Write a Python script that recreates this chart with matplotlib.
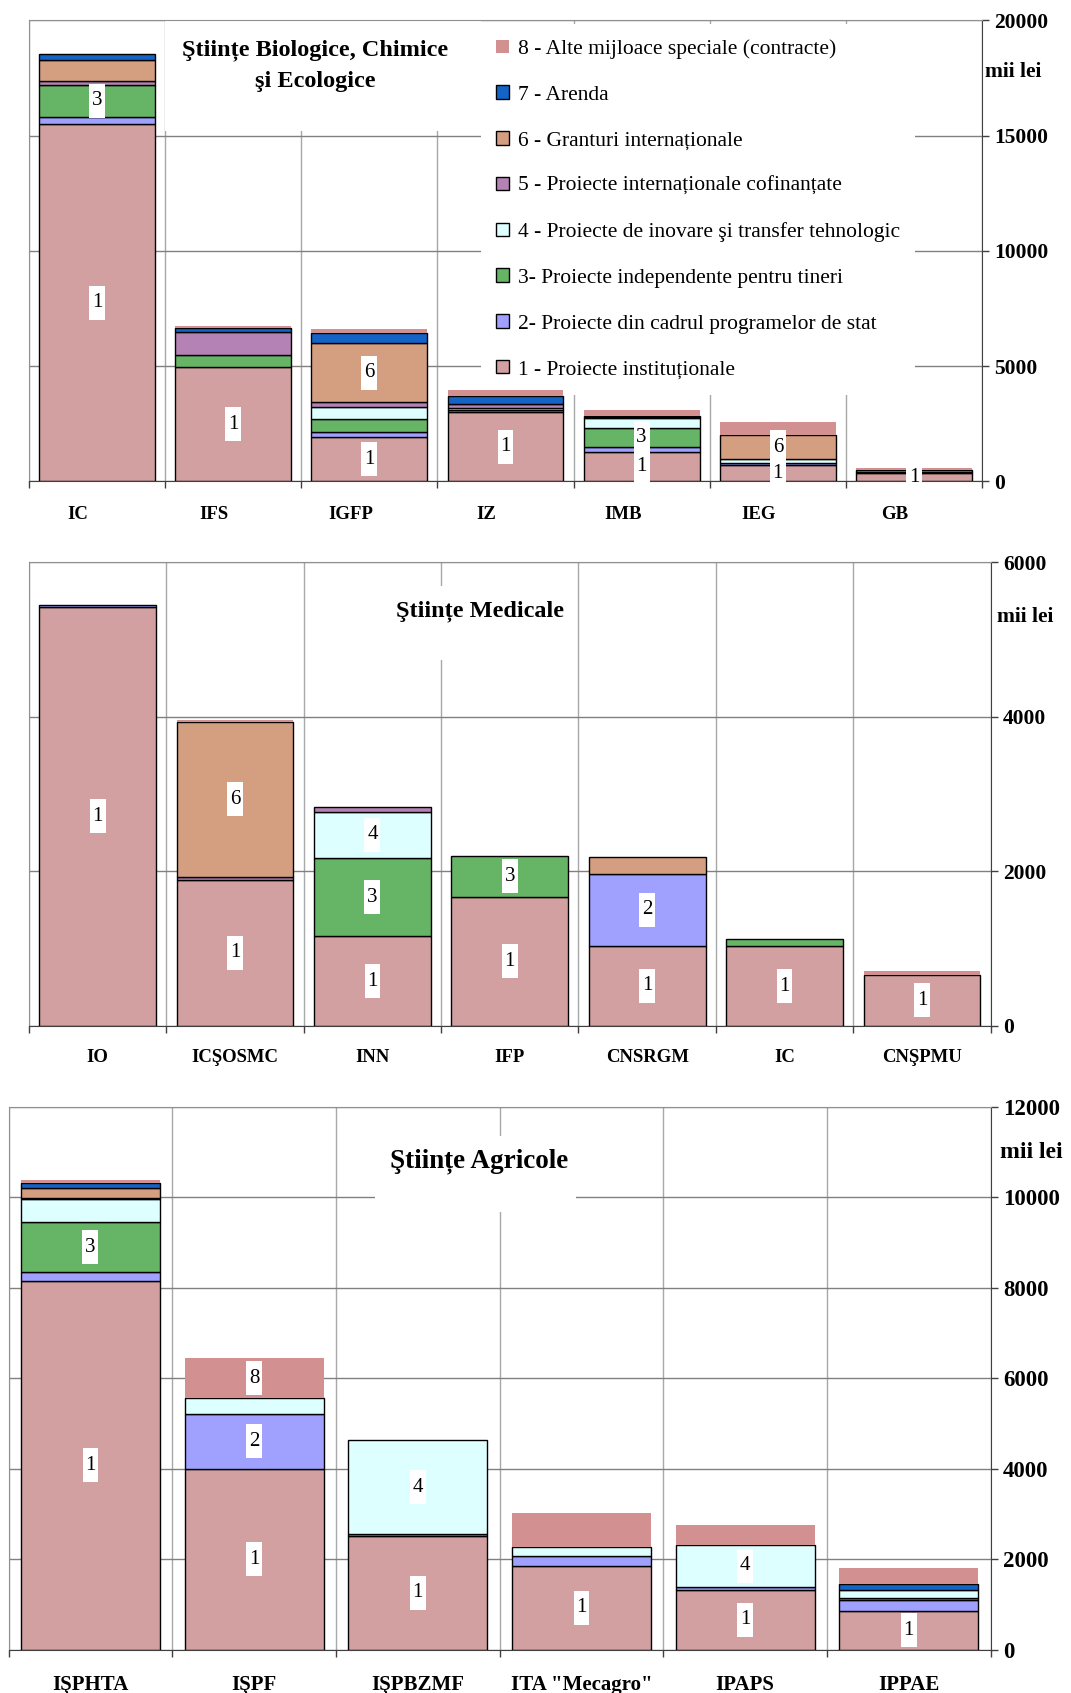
import matplotlib.pyplot as plt
from matplotlib.patches import Patch, Rectangle
from matplotlib.path import Path
from matplotlib.transforms import ScaledTranslation
import numpy as np

plt.rcParams['font.family'] = ['Liberation Serif', 'DejaVu Serif']

# legend texts and colours for the 8 funding sources
series_names = [
    '1 - Proiecte instituționale',
    '2- Proiecte din cadrul programelor de stat',
    '3- Proiecte independente pentru tineri',
    '4 - Proiecte de inovare şi transfer tehnologic',
    '5 - Proiecte internaționale cofinanțate',
    '6 - Granturi internaționale',
    '7 - Arenda',
    '8 - Alte mijloace speciale (contracte)',
]
series_colors = ['#D2A0A0', '#A0A0FF', '#66B466', '#DDFFFF',
                 '#B482B4', '#D49E80', '#1464C8', '#D29090']

# Stiinte Biologice, Chimice si Ecologice (mii lei)
bio_cats = ['IC', 'IFS', 'IGFP', 'IZ', 'IMB', 'IEG', 'GB']
bio_vals = [
    [15510, 4980, 1920, 3010, 1300, 720, 380],
    [320, 0, 220, 0, 190, 90, 50],
    [1375, 490, 560, 110, 820, 0, 50],
    [0, 0, 520, 60, 440, 160, 0],
    [175, 1020, 240, 190, 60, 0, 0],
    [910, 0, 2530, 0, 0, 1030, 0],
    [260, 150, 470, 350, 50, 0, 0],
    [0, 100, 150, 230, 250, 560, 115],
]
bio_marks = [(0, 3), (0, 1), (1, 1), (2, 6), (2, 1), (3, 1),
             (4, 3), (4, 1), (5, 6), (5, 1), (6, 1)]

# Stiinte Medicale
med_cats = ['IO', 'ICŞOSMC', 'INN', 'IFP', 'CNSRGM', 'IC', 'CNŞPMU']
med_vals = [
    [5420, 1890, 1160, 1670, 1040, 1030, 660],
    [20, 0, 0, 0, 930, 0, 0],
    [0, 0, 1010, 530, 0, 90, 0],
    [0, 0, 600, 0, 0, 0, 0],
    [0, 35, 60, 0, 0, 0, 0],
    [0, 2010, 0, 0, 210, 0, 0],
    [0, 0, 0, 0, 0, 0, 0],
    [0, 20, 0, 0, 0, 0, 45],
]
med_marks = [(0, 1), (1, 6), (1, 1), (2, 4), (2, 3), (2, 1),
             (3, 3), (3, 1), (4, 2), (4, 1), (5, 1), (6, 1)]

# Stiinte Agricole
agr_cats = ['IŞPHTA', 'IŞPF', 'IŞPBZMF', 'ITA "Mecagro"', 'IPAPS', 'IPPAE']
agr_vals = [
    [8140, 4000, 2505, 1856, 1326, 847],
    [200, 1210, 40, 220, 66, 250],
    [1110, 0, 0, 0, 0, 50],
    [500, 340, 2090, 185, 930, 177],
    [20, 0, 0, 0, 0, 0],
    [220, 0, 0, 0, 0, 0],
    [110, 0, 0, 0, 0, 118],
    [80, 900, 0, 760, 435, 361],
]
agr_marks = [(0, 3), (0, 1), (1, 8), (1, 2), (1, 1), (2, 4), (2, 1),
             (3, 1), (4, 4), (4, 1), (5, 1)]


def tall_box(x0, y0, width, height, mutation_size):
    # narrow, tall white box behind the segment numbers
    px = 0.13 * mutation_size
    py = 0.36 * mutation_size
    x0, y0 = x0 - px, y0 - py
    x1, y1 = x0 + width + 2 * px, y0 + height + 2 * py
    return Path([(x0, y0), (x1, y0), (x1, y1), (x0, y1), (x0, y0)], closed=True)


def draw_panel(ax, cats, vals, marks, ymax, ystep, xfs, yfs, xpad):
    n = len(cats)
    x = np.arange(n)
    bottom = np.zeros(n)
    for k in range(8):
        v = np.array(vals[k], dtype=float)
        m = v > 0
        if m.any():
            ax.bar(x[m], v[m], 0.85, bottom=bottom[m], color=series_colors[k],
                   edgecolor='none' if k == 7 else 'black', linewidth=1, zorder=2)
        bottom += v

    cum = np.cumsum(np.array(vals, dtype=float), axis=0)
    for i, s in marks:
        lo = cum[s - 2][i] if s > 1 else 0
        yc = lo + vals[s - 1][i] / 2
        ax.text(i, yc, str(s), ha='center', va='center', fontsize=15, zorder=4,
                bbox=dict(boxstyle=tall_box, fc='white', ec='none'))

    ax.set_xlim(-0.5, n - 0.5)
    ax.set_ylim(0, ymax)
    ticks = np.arange(0, ymax + 1, ystep)
    ax.yaxis.tick_right()
    ax.set_yticks(ticks)
    ax.set_yticklabels([str(t) for t in ticks], fontweight='bold', fontsize=yfs)
    ax.tick_params(axis='y', length=5, width=1, pad=4, color='#404040')
    ax.set_xticks(x)
    ax.set_xticklabels(cats, fontweight='bold', fontsize=xfs)
    ax.set_xticks(np.arange(n + 1) - 0.5, minor=True)
    ax.tick_params(axis='x', which='major', length=0, pad=xpad)
    ax.tick_params(axis='x', which='minor', length=5, width=1, color='#404040')
    ax.grid(axis='y', which='major', color='#808080', lw=1)
    ax.grid(axis='x', which='minor', color='#a8a8a8', lw=1)
    ax.set_axisbelow(True)
    for sp in ['top', 'left']:
        ax.spines[sp].set_color('#909090')
    ax.spines['right'].set_color('#404040')
    ax.spines['bottom'].set_color('#404040')


def cover(ax, x0, x1, y0, y1):
    ax.add_patch(Rectangle((x0, y0), x1 - x0, y1 - y0, transform=ax.transAxes,
                           fc='white', ec='none', zorder=1))


fig = plt.figure(figsize=(10.71, 16.93), dpi=100)

ax1 = fig.add_axes([0.027, 0.7156, 0.890, 0.2723])
draw_panel(ax1, bio_cats, bio_vals, bio_marks, 20000, 5000, 13.5, 15.5, 18)
# category names in the top chart sit a little left of the bars
shift = ScaledTranslation(-0.19, 0, fig.dpi_scale_trans)
for lab in ax1.get_xticklabels():
    lab.set_transform(lab.get_transform() + shift)
cover(ax1, 0.143, 0.474, 0.760, 1.0)
ax1.text(0.300, 0.902, 'Ştiințe Biologice, Chimice\nşi Ecologice', transform=ax1.transAxes,
         ha='center', va='center', fontsize=17.5, fontweight='bold', linespacing=1.65, zorder=3)
ax1.text(1.003, 0.888, 'mii lei', transform=ax1.transAxes, ha='left', va='center',
         fontsize=15.5, fontweight='bold')
handles = [Patch(facecolor=series_colors[k], edgecolor='none' if k == 7 else 'black', lw=1)
           for k in range(7, -1, -1)]
leg = ax1.legend(handles, series_names[::-1], loc='upper left', bbox_to_anchor=(0.474, 0.993),
                 borderaxespad=0, borderpad=0.72, fontsize=15.5, labelspacing=1.22,
                 handlelength=0.6, handleheight=0.6, handletextpad=0.4,
                 frameon=True, fancybox=False, framealpha=1, edgecolor='none', facecolor='white')
leg.set_zorder(1.5)

ax2 = fig.add_axes([0.027, 0.394, 0.898, 0.274])
draw_panel(ax2, med_cats, med_vals, med_marks, 6000, 2000, 13.5, 15.5, 16.5)
cover(ax2, 0.370, 0.568, 0.789, 0.948)
ax2.text(0.469, 0.895, 'Ştiințe Medicale', transform=ax2.transAxes, ha='center', va='center',
         fontsize=17.5, fontweight='bold', zorder=3)
ax2.text(1.007, 0.8825, 'mii lei', transform=ax2.transAxes, ha='left', va='center',
         fontsize=15.5, fontweight='bold')

ax3 = fig.add_axes([0.008, 0.0256, 0.917, 0.3208])
draw_panel(ax3, agr_cats, agr_vals, agr_marks, 12000, 2000, 15, 16.5, 18)
cover(ax3, 0.373, 0.578, 0.806, 0.946)
ax3.text(0.479, 0.899, 'Ştiințe Agricole', transform=ax3.transAxes, ha='center', va='center',
         fontsize=19.5, fontweight='bold', zorder=3)
ax3.text(1.010, 0.916, 'mii lei', transform=ax3.transAxes, ha='left', va='center',
         fontsize=17, fontweight='bold')

fig.savefig('out.png', dpi=100)
